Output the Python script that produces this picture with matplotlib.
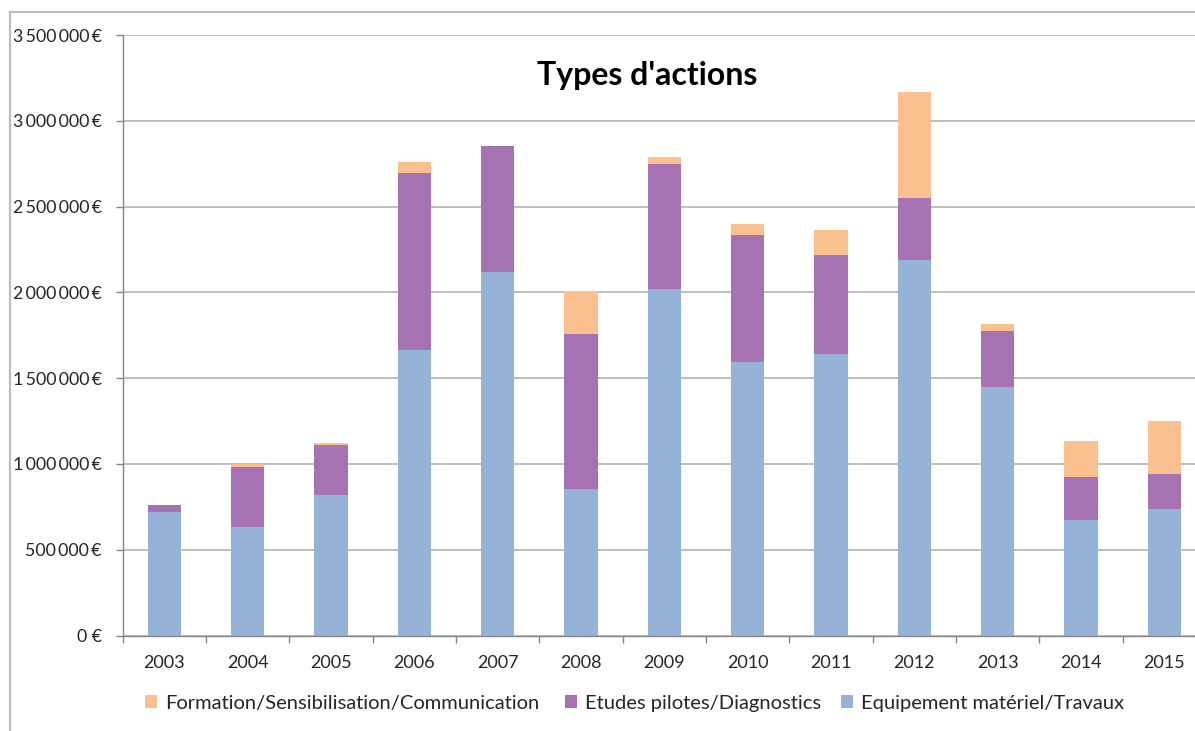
import matplotlib
matplotlib.use("Agg")
import matplotlib.pyplot as plt
from matplotlib.lines import Line2D
from matplotlib.ticker import FuncFormatter, FixedLocator
import numpy as np

years = ["2003", "2004", "2005", "2006", "2007", "2008", "2009",
         "2010", "2011", "2012", "2013", "2014", "2015"]
equipement = [720000, 634000, 820000, 1662000, 2116000, 852000, 2022000,
              1596000, 1643000, 2187000, 1451000, 675000, 735000]
etudes = [40000, 350000, 288000, 1031000, 738000, 904000, 729000,
          737000, 575000, 362000, 324000, 251000, 206000]
formation = [0, 15000, 16000, 64000, 0, 249000, 39000,
             64000, 148000, 616000, 39000, 208000, 311000]

series_labels = ["Formation/Sensibilisation/Communication",
                 "Etudes pilotes/Diagnostics",
                 "Equipement matériel/Travaux"]
c_blue = "#95B3D7"
c_purple = "#A672B1"
c_orange = "#FAC08F"

font = "Lato"
W, H = 1195, 731
fig = plt.figure(figsize=(W / 100, H / 100), dpi=100)
fig.patch.set_edgecolor("none")

# axes spans past the right edge of the figure
x0, x1 = 122.7, 1206.0
y0, y1 = 635.5, 35.0
ax = fig.add_axes([x0 / W, 1 - y0 / H, (x1 - x0) / W, (y0 - y1) / H])

x = np.arange(len(years))
eq = np.array(equipement)
et = np.array(etudes)
fo = np.array(formation)
w = 0.4
b1 = ax.bar(x, eq, w, color=c_blue, zorder=3)
b2 = ax.bar(x, et, w, bottom=eq, color=c_purple, zorder=3)
b3 = ax.bar(x, fo, w, bottom=eq + et, color=c_orange, zorder=3)

ax.set_xlim(-0.5, len(years) - 0.5)
ax.set_ylim(0, 3500000)
ax.set_yticks(np.arange(0, 3500001, 500000))


def euro(v, pos):
    s = f"{int(v):,}".replace(",", "\u2009")
    return f"{s}\u2009€" if v else "0 €"


ax.yaxis.set_major_formatter(FuncFormatter(euro))
ax.grid(axis="y", color="#BFBFBF", linewidth=1.4, zorder=0)

ax.set_xticks(x)
ax.set_xticklabels(years)
ax.xaxis.set_minor_locator(FixedLocator(np.arange(-0.5, len(years), 1.0)))
ax.tick_params(axis="x", which="major", length=0, pad=14,
               labelsize=13, labelcolor="#262626")
ax.tick_params(axis="x", which="minor", length=5, color="#868686", width=1)
ax.tick_params(axis="y", length=5, color="#868686", width=1, pad=10,
               labelsize=12.8, labelcolor="#262626")
for lab in ax.get_xticklabels() + ax.get_yticklabels():
    lab.set_fontfamily([font, "DejaVu Sans"])

for side in ("top", "right"):
    ax.spines[side].set_visible(False)
for side in ("left", "bottom"):
    ax.spines[side].set_color("#868686")
    ax.spines[side].set_linewidth(1.0)
    ax.spines[side].set_zorder(4)

fig.text(647 / W, 1 - 75 / H, "Types d'actions", ha="center", va="center",
         fontsize=23, fontweight="bold", family=font, color="black")

# one legend entry per series, each anchored at its own left edge
legend_left = [145, 565, 841]
for handle, label, xl in zip([b3, b2, b1], series_labels, legend_left):
    leg = fig.legend([handle], [label], loc="center left",
                     bbox_to_anchor=(xl / W, 1 - 703 / H), frameon=False,
                     handlelength=0.6, handleheight=0.6, handletextpad=0.4,
                     borderpad=0, borderaxespad=0,
                     prop={"family": font, "size": 14.5})
    for t in leg.get_texts():
        t.set_color("#262626")

# outer chart frame: only the top and left edges fall inside the image
fy = 1 - 11.5 / H
fx = 10 / W
fig.add_artist(Line2D([fx, 1.0], [fy, fy], transform=fig.transFigure,
                      color="#BDBDBD", linewidth=1.6))
fig.add_artist(Line2D([fx, fx], [0.0, fy], transform=fig.transFigure,
                      color="#BDBDBD", linewidth=1.6))

fig.savefig("out.png", dpi=100, facecolor="white")
